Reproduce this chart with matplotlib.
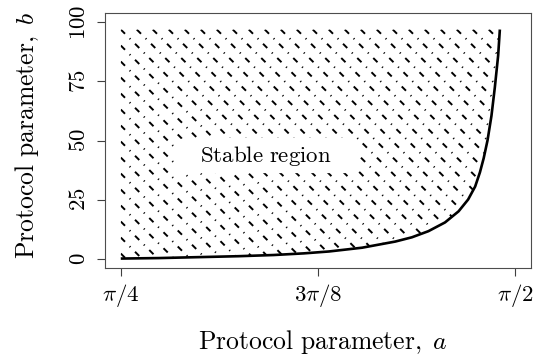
import numpy as np
import matplotlib
matplotlib.use('Agg')
import matplotlib.pyplot as plt
from matplotlib.patches import Polygon, FancyBboxPatch

plt.rcParams['mathtext.fontset'] = 'cm'
plt.rcParams['lines.scale_dashes'] = False

# boundary of the stable region, b as a function of a
a_curve = [0.7854, 0.86, 0.94, 1.02, 1.09, 1.15, 1.20, 1.266, 1.332, 1.365,
           1.398, 1.431, 1.458, 1.477, 1.491, 1.5005, 1.508, 1.5156, 1.5235,
           1.5302, 1.5368, 1.5402]
b_curve = [0.0, 0.2, 0.6, 1.0, 1.5, 2.2, 3.0, 4.6, 7.2, 9.0,
           11.6, 15.3, 20.0, 25.0, 30.5, 36.5, 42.5, 50.0, 60.5,
           72.5, 86.0, 97.0]
b_top = 97.0

a_ticks = [np.pi / 4, 3 * np.pi / 8, np.pi / 2]
a_ticklabels = [r'$\pi/4$', r'$3\pi/8$', r'$\pi/2$']
b_ticks = [0, 25, 50, 75, 100]
b_ticklabels = [r'$%d$' % v for v in b_ticks]

fs_lab = 18.5
fs_tick = 16.5
fig = plt.figure(figsize=(5.4, 3.55), dpi=100)
ax = fig.add_axes([105 / 540, 1 - 268 / 355, 426 / 540, 255 / 355])

span = np.pi / 4
ax.set_xlim(np.pi / 4 - 0.04 * span, np.pi / 2 + 0.04 * span)
ax.set_ylim(-4, 104)

# region to shade: under the top line, above the curve
verts = list(zip(a_curve, b_curve)) + [(a_curve[0], b_top)]
region = Polygon(verts, closed=True, fill=False, edgecolor='none',
                 transform=ax.transData)
ax.add_patch(region)

# shading lines at -45 degrees on screen, dot-dash pattern
tr = ax.transData
p_tl = tr.transform((a_curve[0], b_top))
p_bl = tr.transform((a_curve[0], b_curve[0]))
p_tr = tr.transform((a_curve[-1], b_top))
step = 16.0
starts = [(x, p_tl[1]) for x in np.arange(p_tl[0], p_tr[0] + step, step)]
starts += [(p_tl[0], y) for y in np.arange(p_tl[1] - step, p_bl[1] - step, -step)]
inv = tr.inverted()
for sx, sy in starts:
    p0 = inv.transform((sx, sy))
    p1 = inv.transform((sx + 600, sy - 600))
    ln, = ax.plot([p0[0], p1[0]], [p0[1], p1[1]], color='black', lw=1.4,
                  linestyle=(0, (4.3, 4.7, 0.8, 4.7)), dash_capstyle='butt',
                  zorder=2)
    ln.set_clip_path(region)

ax.plot(a_curve, b_curve, color='black', lw=1.9, solid_capstyle='butt', zorder=3)

box = FancyBboxPatch((0.165, 0.372), 0.428, 0.138,
                     boxstyle='round,pad=0,rounding_size=0.03',
                     transform=ax.transAxes, fc='white', ec='none', zorder=4)
ax.add_patch(box)
ax.text(0.378, 0.44, r'$\mathrm{Stable\ region}$', transform=ax.transAxes,
        ha='center', va='center', fontsize=16.5, zorder=5)

ax.set_xticks(a_ticks)
ax.set_xticklabels(a_ticklabels, fontsize=fs_tick)
ax.set_yticks(b_ticks)
ax.set_yticklabels(b_ticklabels, fontsize=fs_tick, rotation=90, va='center')
ax.tick_params(direction='out', length=6, width=0.8, color='0.25')
ax.tick_params(axis='x', pad=4)
ax.tick_params(axis='y', pad=5)
for s in ax.spines.values():
    s.set_color('0.3')
    s.set_linewidth(0.8)

ax.set_xlabel(r'$\mathrm{Protocol\ parameter,}\;a$', fontsize=fs_lab)
ax.set_ylabel(r'$\mathrm{Protocol\ parameter,}\;b$', fontsize=fs_lab)
ax.xaxis.set_label_coords(0.51, -0.235)
ax.yaxis.set_label_coords(-0.15, 0.52)

fig.savefig('out.png', dpi=100)
